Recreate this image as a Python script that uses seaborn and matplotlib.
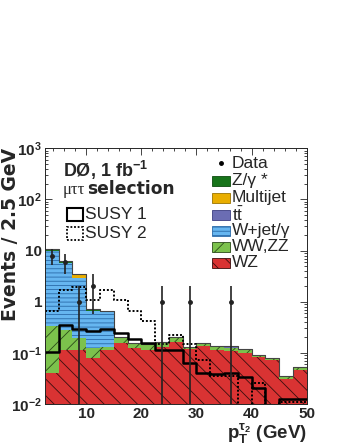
import numpy as np
import pandas as pd
import seaborn as sns
import matplotlib.pyplot as plt
from matplotlib.patches import Rectangle
from matplotlib.lines import Line2D
from matplotlib.colors import to_rgb
from matplotlib.ticker import FixedLocator, LogLocator, MultipleLocator, NullFormatter

# -----------------------------
# Data
# -----------------------------
bin_edges = [2.5 * i for i in range(1, 21)]
pt = np.array([(a + b) / 2 for a, b in zip(bin_edges[:-1], bin_edges[1:])])

wz = [0.040, 0.114, 0.114, 0.080, 0.114, 0.158, 0.123, 0.114, 0.132, 0.165,
      0.118, 0.137, 0.112, 0.107, 0.100, 0.082, 0.073, 0.031, 0.046]
wwzz = [0.29, 0.17, 0.08, 0.045, 0.018, 0.040, 0.030, 0.035, 0.022, 0.040,
        0.014, 0.019, 0.026, 0.017, 0.018, 0.008, 0.008, 0.005, 0.008]
wjet = [9.7, 5.5, 2.7, 0.52, 0.51, 0, 0, 0, 0, 0,
        0, 0, 0, 0, 0, 0, 0, 0, 0]
ttbar = [0, 0, 0, 0, 0, 0, 0, 0, 0, 0,
         0, 0, 0, 0.006, 0, 0, 0, 0, 0]
multijet = [0, 0, 0.5, 0, 0, 0, 0, 0, 0, 0,
            0, 0, 0, 0, 0, 0, 0, 0, 0]
zgamma = [0.8, 0.4, 0.1, 0.07, 0.006, 0.01, 0, 0, 0.006, 0,
          0, 0, 0, 0.006, 0, 0, 0, 0, 0]

susy1 = [0.105, 0.35, 0.294, 0.268, 0.294, 0.242, 0.185, 0.158, 0.112, 0.114,
         0.062, 0.041, 0.038, 0.041, 0.033, 0.021, 0, 0.0125, 0.0125]
susy2 = [0.67, 1.66, 1.95, 1.10, 1.66, 1.10, 0.66, 0.42, 0.15, 0.224,
         0.147, 0.072, 0.036, 0.036, 0, 0.0254, 0, 0.011, 0.011]

data_n = [8, 6, 1, 2, 0, 0, 0, 0, 1, 0, 1, 0, 0, 1, 0, 0, 0, 0, 0]

processes = ["Z/γ *", "Multijet", r"t$\mathrm{\bar{t}}$", "W+jet/γ", "WW,ZZ", "WZ"]
process_values = [zgamma, multijet, ttbar, wjet, wwzz, wz]
colors = ["#17741a", "#e9ae00", "#6b6db3", "#66b6f0", "#7cc24c", "#d93333"]
hatches = ["", "", "", "----", "//", "\\\\"]
hatch_colors = ["#0c4a0e", "#9a7300", "#3b3d80", "#2a6aa8", "#2a4a18", "#3a0e0e"]

y_ticks = [1e-2, 1e-1, 1, 10, 1e2, 1e3]
y_ticklabels = [r"$\mathbf{10^{-2}}$", r"$\mathbf{10^{-1}}$", "1", "10",
                r"$\mathbf{10^{2}}$", r"$\mathbf{10^{3}}$"]
x_ticks = [10, 20, 30, 40, 50]

rows = []
for name, vals in zip(processes, process_values):
    for x, v in zip(pt, vals):
        rows.append({"pt": x, "events": v, "process": name})
df = pd.DataFrame(rows)

# -----------------------------
# Style
# -----------------------------
sns.set_style("ticks")
plt.rcParams["font.family"] = ["Liberation Sans", "DejaVu Sans"]
plt.rcParams["mathtext.fontset"] = "custom"
plt.rcParams["mathtext.rm"] = "Liberation Sans"
plt.rcParams["mathtext.bf"] = "Liberation Sans:bold"
plt.rcParams["mathtext.it"] = "Liberation Sans:italic"
plt.rcParams["hatch.linewidth"] = 0.6

W, H = 345, 446
fig = plt.figure(figsize=(W / 100, H / 100), dpi=100)
ax = fig.add_axes([44.8 / W, 1 - 404 / H, (306.7 - 44.8) / W, (404 - 148.3) / H])


def fx(x):
    return x / W


def fy(y):
    return 1 - y / H


# stacked backgrounds
sns.histplot(data=df, x="pt", weights="events", hue="process", hue_order=processes,
             palette=dict(zip(processes, colors)), bins=bin_edges, multiple="stack",
             element="bars", alpha=1, linewidth=0, shrink=1, legend=False, ax=ax)

for cont in ax.containers:
    fc = cont.patches[0].get_facecolor()[:3]
    for c, h, hc in zip(colors, hatches, hatch_colors):
        if np.allclose(fc, to_rgb(c), atol=0.01):
            for p in cont.patches:
                p.set_hatch(h)
                p.set_edgecolor(hc)
                p.set_linewidth(0)

total = np.sum(np.array(process_values), axis=0)
sns.histplot(x=pt, weights=total, bins=bin_edges, element="step", fill=False,
             color="#444444", linewidth=0.8, ax=ax)

# signal curves
sns.histplot(x=pt, weights=susy1, bins=bin_edges, element="step", fill=False,
             color="black", linewidth=1.8, ax=ax)
sns.histplot(x=pt, weights=susy2, bins=bin_edges, element="step", fill=False,
             color="black", linewidth=1.4, linestyle=(0, (1, 1)), ax=ax)

# data
n = np.array(data_n, dtype=float)
sel = n > 0
err = np.sqrt(n[sel])
lower = np.minimum(err, n[sel] - 1e-6)
ax.errorbar(pt[sel], n[sel], yerr=[lower, err], fmt="o", ms=2.5, color="#222222",
            elinewidth=1.2, capsize=0, zorder=5)

# axes
ax.set_yscale("log")
ax.set_xlim(2.5, 50)
ax.set_ylim(1e-2, 1e3)
ax.yaxis.set_major_locator(FixedLocator(y_ticks))
ax.set_yticklabels(y_ticklabels)
ax.yaxis.set_minor_locator(LogLocator(base=10, subs=np.arange(2, 10)))
ax.yaxis.set_minor_formatter(NullFormatter())
ax.xaxis.set_major_locator(FixedLocator(x_ticks))
ax.xaxis.set_minor_locator(MultipleLocator(2))
ax.tick_params(which="both", direction="in", top=True, right=True, width=0.6,
               labelsize=11)
ax.tick_params(which="major", length=5)
ax.tick_params(which="minor", length=2.5)
ax.tick_params(axis="x", pad=2)
ax.tick_params(axis="y", pad=2)
for lab in ax.get_xticklabels() + ax.get_yticklabels():
    lab.set_fontweight("bold")
for s in ax.spines.values():
    s.set_linewidth(0.7)

ax.set_ylabel("Events / 2.5 GeV", fontsize=13.5, fontweight="bold", loc="top",
              family="DejaVu Sans")
ax.yaxis.set_label_coords(-0.096, 1.0)
ax.set_xlabel(r"$\mathbf{p_T^{\tau_2}}$ (GeV)", fontsize=13.5, fontweight="bold", loc="right")
ax.xaxis.set_label_coords(1.0, -0.068)

# annotation top-left
fig.text(fx(63), fy(176.5), r"DØ, 1 fb$^{\mathbf{-1}}$", fontsize=13, fontweight="bold",
         va="baseline")
fig.text(fx(63), fy(193.5), "μττ", fontsize=12, family="Liberation Serif", va="baseline")
fig.text(fx(87.5), fy(193.5), "selection", fontsize=12.3, fontweight="bold", va="baseline",
         family="DejaVu Sans")

fig.add_artist(Rectangle((fx(66.7), fy(221)), 16.6 / W, 13 / H, transform=fig.transFigure,
                         fill=False, lw=1.5, ec="black"))
fig.add_artist(Rectangle((fx(66.7), fy(240)), 16.6 / W, 13 / H, transform=fig.transFigure,
                         fill=False, lw=1.3, ec="black", ls=(0, (1, 1))))
fig.text(fx(85), fy(214.5), "SUSY 1", fontsize=12.5, va="center")
fig.text(fx(85), fy(233.5), "SUSY 2", fontsize=12.5, va="center")

# legend top-right (drawn by hand, ROOT style)
fig.add_artist(Line2D([fx(221)], [fy(163)], marker="o", ms=2.5, color="black",
                      transform=fig.transFigure))
fig.text(fx(232), fy(163), "Data", fontsize=12.5, va="center")
leg_y = [180.5, 197.5, 214.5, 230.5, 246.5, 262.5]
for name, c, h, hc, yc in zip(processes, colors, hatches, hatch_colors, leg_y):
    fig.add_artist(Rectangle((fx(211.5), fy(yc + 5)), 18.5 / W, 10 / H,
                             transform=fig.transFigure, facecolor=c, hatch=h,
                             edgecolor=hc, lw=0.6))
    fig.text(fx(232), fy(yc), name, fontsize=12.5, va="center")

fig.savefig("out.png", dpi=100)
plt.close(fig)
